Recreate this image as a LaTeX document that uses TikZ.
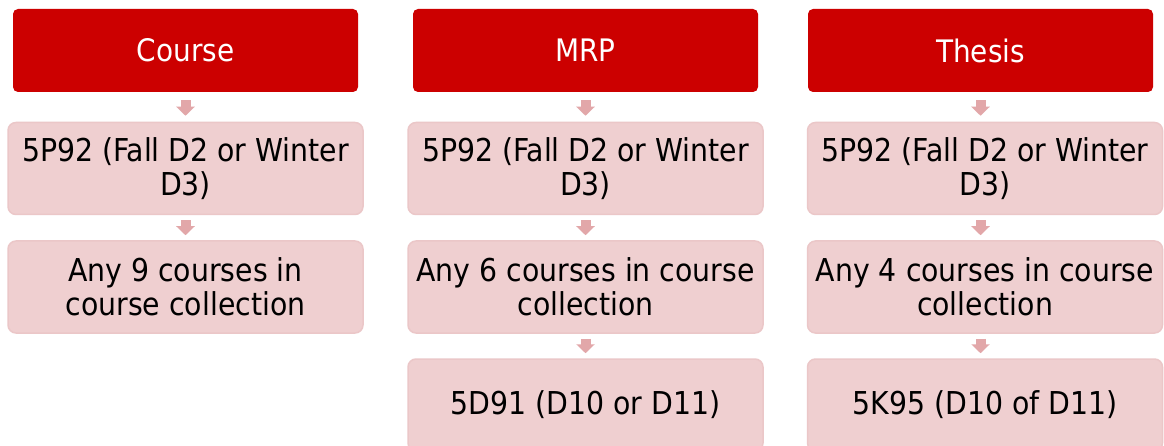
\documentclass[tikz,border=0pt]{standalone}
\usepackage{fontspec}
\setmainfont{DejaVu Sans Condensed}
\usetikzlibrary{arrows.meta}
\definecolor{hdr}{HTML}{CC0000}
\definecolor{pinkfill}{HTML}{EFCFD0}
\definecolor{pinkline}{HTML}{EBC7C8}
\definecolor{arr}{HTML}{E2A7A9}
\tikzset{
  hdrbox/.style={fill=hdr, rounded corners=5pt, minimum width=345pt, minimum height=83pt, inner sep=0pt, text=white, font=\fontsize{31}{34}\selectfont, align=center},
  pinkbox/.style={fill=pinkfill, draw=pinkline, line width=1.5pt, rounded corners=8pt, minimum width=355pt, minimum height=92pt, inner sep=0pt, text=black, font=\fontsize{31.5}{34}\selectfont, align=center},
  flowarrow/.style={draw=arr, line width=10pt, -{Triangle[width=18pt,length=9pt]}}
}
\begin{document}
\begin{tikzpicture}[x=1pt,y=-1pt]
\useasboundingbox (0,0) rectangle (1164,446);
\fill[white] (0,0) rectangle (1164,446);
\clip (0,0) rectangle (1164,446);
% column 1
\node[hdrbox] (h1) at (185.5,50.5) {Course};
\node[pinkbox] (p11) at (185.5,168.5) {5P92 (Fall D2 or Winter\\D3)};
\node[pinkbox] (p12) at (185.5,287) {Any 9 courses in\\course collection};
% column 2
\node[hdrbox] (h2) at (585.5,50.5) {MRP};
\node[pinkbox] (p21) at (585.5,168.5) {5P92 (Fall D2 or Winter\\D3)};
\node[pinkbox] (p22) at (585.5,287) {Any 6 courses in course\\collection};
\node[pinkbox] (p23) at (585.5,405) {5D91 (D10 or D11)};
% column 3
\node[hdrbox] (h3) at (980.5,50.5) {Thesis};
\node[pinkbox] (p31) at (985,168.5) {5P92 (Fall D2 or Winter\\D3)};
\node[pinkbox] (p32) at (985,287) {Any 4 courses in course\\collection};
\node[pinkbox] (p33) at (985,405) {5K95 (D10 of D11)};
% arrows
\draw[flowarrow, shorten <=8pt, shorten >=6pt] (h1.south) -- (p11.north);
\draw[flowarrow, shorten <=5pt, shorten >=5pt] (p11.south) -- (p12.north);
\draw[flowarrow, shorten <=8pt, shorten >=6pt] (h2.south) -- (p21.north);
\draw[flowarrow, shorten <=5pt, shorten >=5pt] (p21.south) -- (p22.north);
\draw[flowarrow, shorten <=5pt, shorten >=5pt] (p22.south) -- (p23.north);
\draw[flowarrow, shorten <=8pt, shorten >=6pt] (h3.south) -- (h3.south |- p31.north);
\draw[flowarrow, shorten <=5pt, shorten >=5pt] (p31.south -| h3.south) -- (h3.south |- p32.north);
\draw[flowarrow, shorten <=5pt, shorten >=5pt] (p32.south -| h3.south) -- (h3.south |- p33.north);
\end{tikzpicture}
\end{document}
